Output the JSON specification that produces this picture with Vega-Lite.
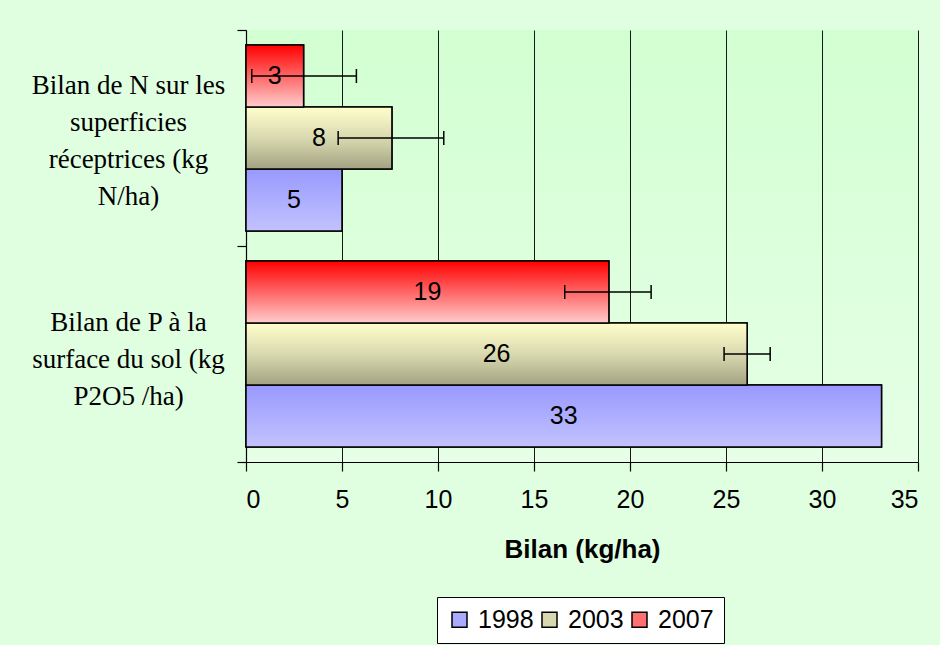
{
  "$schema": "https://vega.github.io/schema/vega-lite/v6.json",
  "width": 672,
  "height": 432,
  "autosize": {"type": "none"},
  "padding": {"left": 246, "top": 30, "right": 22, "bottom": 183},
  "background": "#e0ffe0",
  "config": {
    "view": {
      "stroke": null,
      "fill": {"gradient": "linear", "x1": 0, "y1": 0, "x2": 0, "y2": 1,
        "stops": [{"offset": 0, "color": "#d2ffd2"}, {"offset": 1, "color": "#e6ffe6"}]}
    }
  },
  "data": {
    "values": [
      {"cat": "Bilan de N sur les|superficies|réceptrices (kg|N/ha)", "year": "1998", "value": 5.0},
      {"cat": "Bilan de N sur les|superficies|réceptrices (kg|N/ha)", "year": "2003", "value": 7.6, "lo": 4.8, "hi": 10.3},
      {"cat": "Bilan de N sur les|superficies|réceptrices (kg|N/ha)", "year": "2007", "value": 3.0, "lo": 0.3, "hi": 5.75},
      {"cat": "Bilan de P à la|surface du sol (kg|P2O5 /ha)", "year": "1998", "value": 33.1},
      {"cat": "Bilan de P à la|surface du sol (kg|P2O5 /ha)", "year": "2003", "value": 26.1, "lo": 24.9, "hi": 27.3},
      {"cat": "Bilan de P à la|surface du sol (kg|P2O5 /ha)", "year": "2007", "value": 18.9, "lo": 16.6, "hi": 21.1}
    ]
  },
  "encoding": {
    "y": {
      "field": "cat", "type": "nominal", "sort": null,
      "scale": {"paddingInner": 0, "paddingOuter": 0},
      "axis": {
        "title": null, "domainColor": "black", "domainWidth": 1.2, "tickColor": "black", "tickSize": 9, "tickWidth": 1.2,
        "tickBand": "extent", "labelExpr": "split(datum.label, '|')",
        "labelFont": "Liberation Serif", "labelFontSize": 27, "labelLineHeight": 37,
        "labelAlign": "center", "labelPadding": 109, "labelColor": "black", "labelLimit": 0,
        "labelOffset": -45,
        "labelBaseline": {"condition": {"test": "datum.value === 'Bilan de N sur les|superficies|réceptrices (kg|N/ha)'", "value": "alphabetic"}, "value": "top"}
      }
    },
    "yOffset": {
      "field": "year", "type": "nominal", "sort": ["2007", "2003", "1998"],
      "scale": {"paddingInner": 0, "paddingOuter": 0.242}
    }
  },
  "layer": [
    {
      "mark": {"type": "bar", "stroke": "black", "strokeWidth": 1.5},
      "encoding": {
        "x": {
          "field": "value", "type": "quantitative",
          "scale": {"domain": [0, 35], "nice": false},
          "axis": {
            "title": "Bilan (kg/ha)", "values": [0, 5, 10, 15, 20, 25, 30, 35],
            "grid": true, "gridColor": "black", "gridWidth": 1, "gridOpacity": 0.9,
            "domainColor": "black", "domainWidth": 1.2, "tickColor": "black", "tickSize": 9, "tickWidth": 1.2,
            "labelFont": "Liberation Sans", "labelFontSize": 25, "labelColor": "black", "labelPadding": 16,
            "titleFont": "Liberation Sans", "titleFontSize": 26, "titleFontWeight": "bold", "titleColor": "black", "titlePadding": 24
          }
        },
        "color": {
          "field": "year", "type": "nominal",
          "scale": {"domain": ["1998", "2003", "2007"], "range": ["#aaaaff", "#d8d8b0", "#ff7070"]},
          "legend": {
            "orient": "none", "legendX": 191, "legendY": 567, "direction": "horizontal", "title": null,
            "symbolType": "square", "symbolSize": 225, "symbolStrokeColor": "black", "symbolStrokeWidth": 1.5,
            "labelFont": "Liberation Sans", "labelFontSize": 25, "labelColor": "black", "labelOffset": 6,
            "columnPadding": 3, "fillColor": "white", "strokeColor": "black", "padding": 10,
            "encode": {
              "symbols": {
                "update": {
                  "stroke": {"value": "black"},
                  "strokeWidth": {"value": 1.5},
                  "fill": {"signal": "datum.value === '2007' ? {gradient: 'linear', x1: 0, y1: 0, x2: 0, y2: 1, stops: [{offset: 0, color: '#ff0000'}, {offset: 1, color: '#ffcccc'}]} : datum.value === '2003' ? {gradient: 'linear', x1: 0, y1: 0, x2: 0, y2: 1, stops: [{offset: 0, color: '#ffffcc'}, {offset: 1, color: '#a3a383'}]} : {gradient: 'linear', x1: 0, y1: 0, x2: 0, y2: 1, stops: [{offset: 0, color: '#9999ff'}, {offset: 1, color: '#c2c2ff'}]}"}
                }
              }
            }
          }
        }
      }
    },
    {
      "transform": [{"filter": "datum.year === '1998'"}],
      "mark": {"type": "bar", "stroke": "black", "strokeWidth": 1.5,
        "fill": {"gradient": "linear", "x1": 0, "y1": 0, "x2": 0, "y2": 1, "stops": [{"offset": 0, "color": "#9999ff"}, {"offset": 1, "color": "#c2c2ff"}]}},
      "encoding": {"x": {"field": "value", "type": "quantitative"}}
    },
    {
      "transform": [{"filter": "datum.year === '2003'"}],
      "mark": {"type": "bar", "stroke": "black", "strokeWidth": 1.5,
        "fill": {"gradient": "linear", "x1": 0, "y1": 0, "x2": 0, "y2": 1, "stops": [{"offset": 0, "color": "#ffffcc"}, {"offset": 0.5, "color": "#d9d9b0"}, {"offset": 1, "color": "#a3a383"}]}},
      "encoding": {"x": {"field": "value", "type": "quantitative"}}
    },
    {
      "transform": [{"filter": "datum.year === '2007'"}],
      "mark": {"type": "bar", "stroke": "black", "strokeWidth": 1.5,
        "fill": {"gradient": "linear", "x1": 0, "y1": 0, "x2": 0, "y2": 1, "stops": [{"offset": 0, "color": "#ff0000"}, {"offset": 1, "color": "#ffcccc"}]}},
      "encoding": {"x": {"field": "value", "type": "quantitative"}}
    },
    {
      "transform": [{"filter": "isValid(datum.lo)"}],
      "mark": {"type": "rule", "color": "black", "strokeWidth": 1.5},
      "encoding": {"x": {"field": "lo", "type": "quantitative"}, "x2": {"field": "hi"}}
    },
    {
      "transform": [{"filter": "isValid(datum.lo)"}],
      "mark": {"type": "tick", "color": "black", "thickness": 1.5, "size": 14, "orient": "vertical", "opacity": 1},
      "encoding": {"x": {"field": "lo", "type": "quantitative"}}
    },
    {
      "transform": [{"filter": "isValid(datum.hi)"}],
      "mark": {"type": "tick", "color": "black", "thickness": 1.5, "size": 14, "orient": "vertical", "opacity": 1},
      "encoding": {"x": {"field": "hi", "type": "quantitative"}}
    },
    {
      "transform": [{"calculate": "datum.value / 2", "as": "mid"}],
      "mark": {"type": "text", "font": "Liberation Sans", "fontSize": 25, "color": "black", "align": "center", "baseline": "middle"},
      "encoding": {
        "x": {"field": "mid", "type": "quantitative"},
        "text": {"field": "value", "type": "quantitative", "format": ".0f"}
      }
    }
  ]
}
